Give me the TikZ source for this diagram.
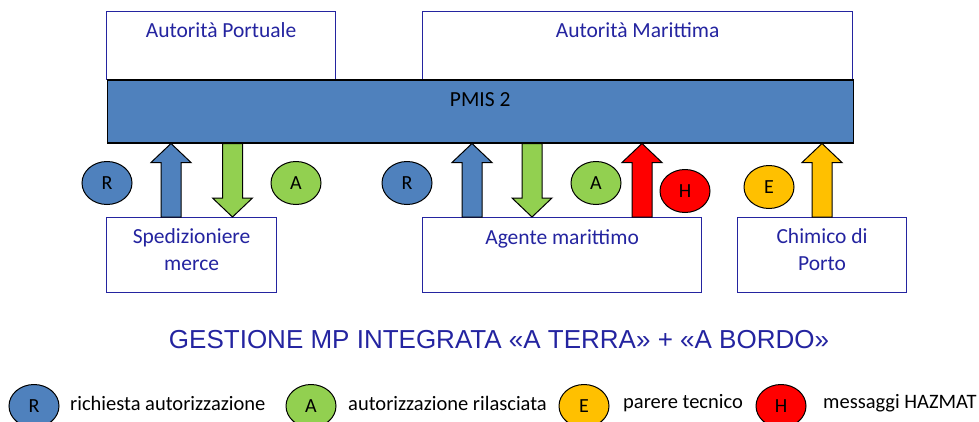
\documentclass[tikz,border=0pt]{standalone}
\usepackage{fontspec}
\setmainfont{Carlito}
\newfontfamily\titlefont{Liberation Sans}
\usetikzlibrary{calc,shapes.geometric}

\definecolor{pmisblue}{RGB}{79,129,189}
\definecolor{okgreen}{RGB}{146,208,80}
\definecolor{hazred}{RGB}{255,0,0}
\definecolor{techyellow}{RGB}{255,192,0}
\definecolor{inkblue}{RGB}{36,36,160}

\tikzset{
  actor/.style={draw=inkblue, line width=1.2pt, fill=white, inner sep=0pt},
  toplabel/.style={anchor=north, inner sep=0pt, align=center,
    font=\fontsize{21.5}{27}\selectfont},
  tag/.style={ellipse, draw=black, line width=1pt, minimum width=50pt,
    minimum height=43pt, inner sep=0pt, font=\fontsize{20}{20}\selectfont},
  legendtext/.style={anchor=west, inner sep=0pt, font=\fontsize{20.5}{20}\selectfont},
}

% block arrow: fill, tail, tip
\newcommand{\flowarrow}[3]{%
  \draw[fill=#1, line width=1pt] let \p1=(#2), \p2=(#3), \p3=($(#3)!19pt!(#2)$) in
    (\x1-10pt,\y1) -- (\x1-10pt,\y3) -- (\x1-20pt,\y3) -- (\x2,\y2)
    -- (\x1+20pt,\y3) -- (\x1+10pt,\y3) -- (\x1+10pt,\y1) -- cycle;}

\begin{document}
\begin{tikzpicture}[x=1pt,y=-1pt]
  \useasboundingbox (0,0) rectangle (979,421);
  \clip (0,0) rectangle (979,421);

  % authorities
  \node [actor, minimum width=229pt, minimum height=68pt, anchor=north west,
         label={[toplabel, text=inkblue, yshift=-11pt]north:Autorità Portuale}] (ap) at (106,11) {};
  \node [actor, minimum width=430pt, minimum height=68pt, anchor=north west,
         label={[toplabel, text=inkblue, yshift=-11pt]north:Autorità Marittima}] (am) at (422,11) {};

  % the system bar
  \node [draw=black, line width=1.5pt, fill=pmisblue, minimum width=746pt, minimum height=63pt,
         anchor=north west, inner sep=0pt,
         label={[toplabel, yshift=-13pt]north:PMIS 2}] (pmis) at (106.5,79) {};

  % operators
  \node [actor, minimum width=170pt, minimum height=75pt, anchor=north west,
         label={[toplabel, text=inkblue, yshift=-11pt]north:Spedizioniere\\merce}] (sped) at (106,217) {};
  \node [actor, minimum width=279pt, minimum height=75pt, anchor=north west,
         label={[toplabel, text=inkblue, yshift=-12pt]north:Agente marittimo}] (agente) at (422,217) {};
  \node [actor, minimum width=169pt, minimum height=75pt, anchor=north west,
         label={[toplabel, text=inkblue, yshift=-11pt]north:Chimico di\\Porto}] (chim) at (737,217) {};

  % flows
  \flowarrow{pmisblue}{171,0 |- sped.north}{171,0 |- pmis.south}
  \flowarrow{okgreen}{232.5,0 |- pmis.south}{232.5,0 |- sped.north}
  \flowarrow{pmisblue}{472,0 |- agente.north}{472,0 |- pmis.south}
  \flowarrow{okgreen}{532,0 |- pmis.south}{532,0 |- agente.north}
  \flowarrow{hazred}{642,0 |- agente.north}{642,0 |- pmis.south}
  \flowarrow{techyellow}{822,0 |- chim.north}{822,0 |- pmis.south}

  % tags
  \node [tag, fill=pmisblue] (r1) at (107,183) {R};
  \node [tag, fill=okgreen] (a1) at (296,183) {A};
  \node [tag, fill=pmisblue] (r2) at (407,183) {R};
  \node [tag, fill=okgreen] (a2) at (596,183) {A};
  \node [tag, fill=hazred] (h1) at (685,191) {H};
  \node [tag, fill=techyellow] (e1) at (769,187) {E};

  \node [text=inkblue, font=\titlefont\fontsize{26}{26}\selectfont] (title) at (499,340)
        {GESTIONE MP INTEGRATA «A TERRA» + «A BORDO»};

  % legend
  \node [tag, fill=pmisblue] (lr) at (34,406) {R};
  \node [legendtext] (lrtext) at (70,403) {richiesta autorizzazione};
  \node [tag, fill=okgreen] (la) at (311,406) {A};
  \node [legendtext] (latext) at (348,403) {autorizzazione rilasciata};
  \node [tag, fill=techyellow] (le) at (584,406) {E};
  \node [legendtext] (letext) at (623,403) {parere tecnico};
  \node [tag, fill=hazred] (lh) at (781,406) {H};
  \node [legendtext] (lhtext) at (823,403) {messaggi HAZMAT};
\end{tikzpicture}
\end{document}
